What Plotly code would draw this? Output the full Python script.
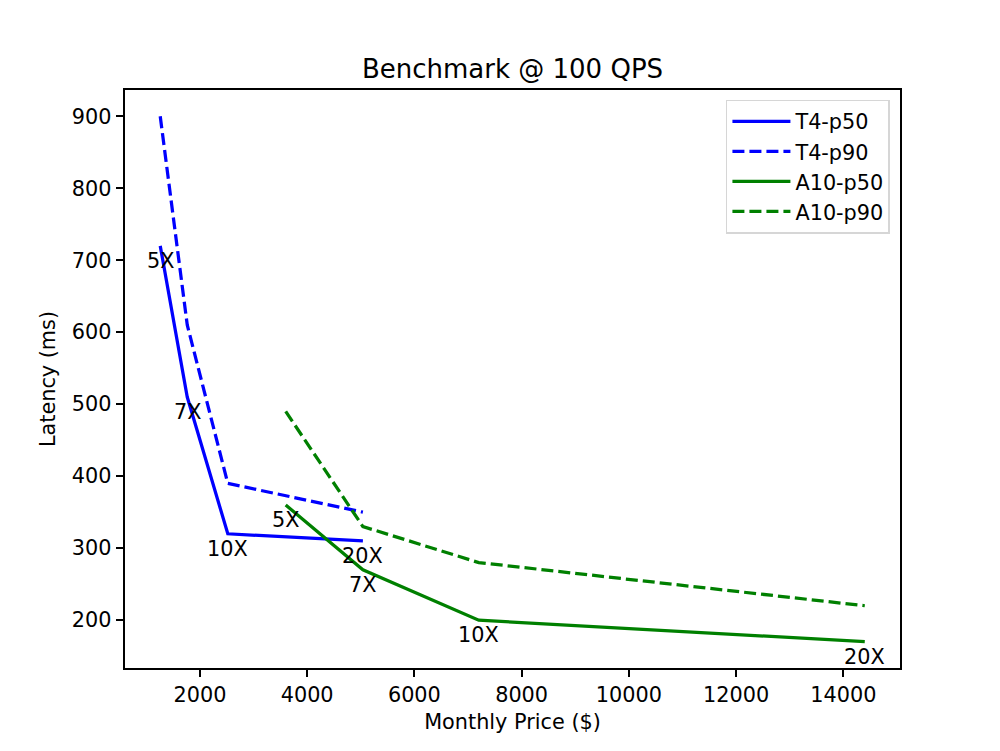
import plotly.graph_objects as go

# multiples of the base instance count
scale_labels = ["5X", "7X", "10X", "20X"]

t4_price = [1260, 1764, 2520, 5040]
t4_p50 = [720, 510, 320, 310]
t4_p90 = [900, 610, 390, 350]

a10_price = [3600, 5040, 7200, 14400]
a10_p50 = [360, 270, 200, 170]
a10_p90 = [490, 330, 280, 220]

BLUE = "#0000ff"
GREEN = "#008000"
LW = 3.25
DASH = "12px,5px"
FONT = "DejaVu Sans"

fig = go.Figure()

series = [
    ("T4-p50", t4_price, t4_p50, BLUE, "solid"),
    ("T4-p90", t4_price, t4_p90, BLUE, DASH),
    ("A10-p50", a10_price, a10_p50, GREEN, "solid"),
    ("A10-p90", a10_price, a10_p90, GREEN, DASH),
]
for name, xs, ys, color, dash in series:
    fig.add_trace(go.Scatter(
        x=xs, y=ys, mode="lines", name=name, legendgroup=name,
        line=dict(color=color, width=LW, dash=dash),
        hoverinfo="skip",
    ))

# scale labels under the p50 points
annotations = []
for xs, ys in [(t4_price, t4_p50), (a10_price, a10_p50)]:
    for x, y, lab in zip(xs, ys, scale_labels):
        annotations.append(dict(
            x=x, y=y, text=lab, showarrow=False, xanchor="center",
            yanchor="middle", yshift=-15,
            font=dict(family=FONT, size=20.8, color="black"),
        ))

axis_common = dict(
    showgrid=False, zeroline=False, showline=True, mirror=True,
    linecolor="black", linewidth=1.7, ticks="outside", ticklen=7.6,
    tickwidth=1.7, tickcolor="black", tickformat="d", automargin=False,
    tickfont=dict(family=FONT, size=20.8, color="black"),
)

# the page body adds 8px, so the margins are shifted to compensate
fig.update_layout(
    width=1000, height=751,
    margin=dict(l=117, r=108, t=82, b=91),
    paper_bgcolor="white", plot_bgcolor="white",
    font=dict(family=FONT, size=20.8, color="black"),
    title=dict(
        text="Benchmark @ 100 QPS", x=0.5, xanchor="center",
        xref="paper", yref="paper", y=1, yanchor="bottom",
        pad=dict(b=12), font=dict(family=FONT, size=26, color="black"),
    ),
    xaxis=dict(
        range=[603, 15057], tickmode="linear", tick0=0, dtick=2000,
        title=dict(text="Monthly Price ($)", standoff=8,
                   font=dict(family=FONT, size=20.8, color="black")),
        **axis_common,
    ),
    yaxis=dict(
        range=[133.5, 936.5], tickmode="linear", tick0=0, dtick=100,
        title=dict(text="Latency (ms)", standoff=10,
                   font=dict(family=FONT, size=20.8, color="black")),
        **axis_common,
    ),
    legend=dict(
        x=0.987, y=0.983, xanchor="right", yanchor="top",
        bgcolor="rgba(255,255,255,0.8)", bordercolor="#d6d6d6",
        borderwidth=1.5, tracegroupgap=0, itemwidth=58,
        font=dict(family=FONT, size=20.8, color="black"),
    ),
    annotations=annotations,
    hovermode=False,
)

fig.write_html("out.html")
